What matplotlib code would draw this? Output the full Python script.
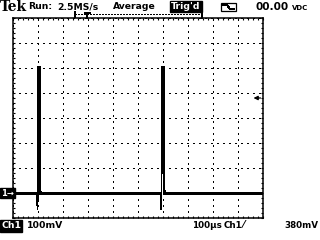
import matplotlib.pyplot as plt
import matplotlib.transforms as mtransforms
from matplotlib.patches import Rectangle

plt.rcParams['lines.antialiased'] = False
plt.rcParams['font.family'] = ['DejaVu Sans']

# horizontal 100us/div, vertical 100mV/div
time_us = [0, 96, 98, 99, 99.5, 108, 108.5, 111, 116,
           590, 592, 594, 597, 604, 604.5, 607, 612, 1000]
volts_mv = [0, 0, -60, 0, 504, 504, 0, 6, 0,
            0, -60, 0, 504, 504, 0, 10, 0, 0]
trig_level_mv = 380
record_view_us = [248, 756]
trig_pos_us = 296

W, H = 320, 240
fig = plt.figure(figsize=(3.2, 2.4), dpi=100)
ax = fig.add_axes([13 / W, (H - 218) / H, 250 / W, 200 / H])
ax.set_xlim(0, 1000)
ax.set_ylim(-100, 700)
ax.set_xticks(range(0, 1001, 100))
ax.set_yticks(range(-100, 701, 100))
ax.set_xticks(range(0, 1001, 20), minor=True)
ax.set_yticks(range(-100, 701, 20), minor=True)
ax.tick_params(which='both', direction='in', length=1.6, width=0.8,
               top=True, right=True, labelbottom=False, labelleft=False)
ax.grid(True, which='major', color='k', linestyle=(0, (1, 4)), linewidth=0.75)
for s in ax.spines.values():
    s.set_linewidth(1.1)

# trace is 1px wide, averaged baseline looks 2px thick
ax.plot(time_us, volts_mv, color='k', linewidth=0.55)
down1 = ax.transData + mtransforms.ScaledTranslation(0, -0.01, fig.dpi_scale_trans)
ax.plot(time_us, volts_mv, color='k', linewidth=0.55, transform=down1)

# ground marker and trigger level
ax.annotate('1→', xy=(0, 0), xycoords=('axes fraction', 'data'),
            xytext=(-12, 0), textcoords='offset pixels', ha='left', va='center',
            fontsize=6, fontweight='bold', color='w', annotation_clip=False,
            bbox=dict(boxstyle='square,pad=0.1', fc='k', ec='k'))
ax.annotate('', xy=(0.962, trig_level_mv), xytext=(0.99, trig_level_mv),
            xycoords=('axes fraction', 'data'), textcoords=('axes fraction', 'data'),
            arrowprops=dict(arrowstyle='-|>', color='k', lw=0.9,
                            mutation_scale=6, shrinkA=0, shrinkB=0))

# record view bracket with trigger position
tr = mtransforms.blended_transform_factory(ax.transData, ax.transAxes)
ax.plot(record_view_us, [1.018, 1.018], color='k', linestyle=(0, (1, 1)),
        linewidth=0.75, transform=tr, clip_on=False)
ax.plot([record_view_us[0]] * 2, [1.005, 1.03], color='k', lw=1.1,
        transform=tr, clip_on=False)
ax.plot([record_view_us[1]] * 2, [1.0, 1.03], color='k', lw=1.1,
        transform=tr, clip_on=False)
ax.plot([trig_pos_us] * 2, [1.0, 1.025], color='k', lw=1.1,
        transform=tr, clip_on=False)
ax.plot([trig_pos_us - 10, trig_pos_us + 10], [1.025, 1.025], color='k', lw=1.1,
        transform=tr, clip_on=False)


def px(x, y, s, **kw):
    kw.setdefault('fontsize', 6.7)
    kw.setdefault('fontweight', 'bold')
    kw.setdefault('va', 'baseline')
    fig.text(x / W, 1 - y / H, s, **kw)


px(0, 11, 'Tek', family='DejaVu Serif', fontsize=10)
px(28, 9, 'Run:')
px(57, 9, '2.5MS/s')
px(113, 9, 'Average')
px(171, 9, "Trig'd", color='w',
   bbox=dict(boxstyle='square,pad=0.12', fc='k', ec='k'))
fig.add_artist(Rectangle((221 / W, 1 - 11 / H), 15 / W, 8 / H, fill=False,
                         ec='k', lw=0.9, transform=fig.transFigure))
fig.add_artist(plt.Line2D([223 / W, 227 / W, 230 / W, 234 / W],
                          [1 - 5 / H, 1 - 5 / H, 1 - 9 / H, 1 - 9 / H],
                          color='k', lw=0.8, transform=fig.transFigure))
px(255, 10, '00.00', fontsize=7.6)
px(292, 10, 'VDC', fontsize=5)

px(1, 228.5, 'Ch1', color='w', bbox=dict(boxstyle='square,pad=0.12', fc='k', ec='k'))
px(27, 228.5, '100mV')
px(192, 228.5, '100µs', fontsize=6.3)
px(224, 228.5, 'Ch1', fontsize=6.3)
px(243, 228.5, '⁄', fontsize=7)
px(284, 228.5, '380mV', fontsize=6.3)

fig.savefig('out.png', dpi=100)
